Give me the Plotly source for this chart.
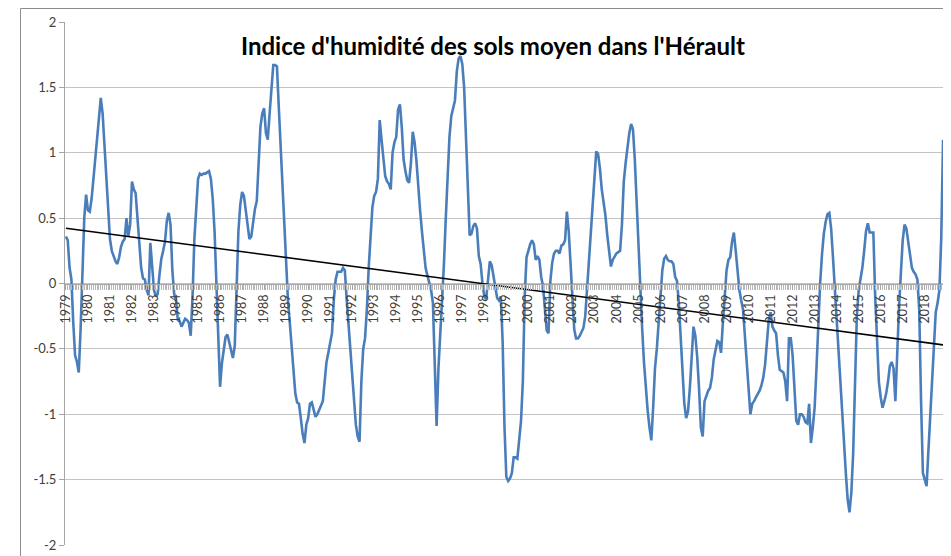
import numpy as np
import plotly.graph_objects as go

# ---------------- data (monthly soil moisture index, Jan 1979 .. Nov 2018) ----------------
v_1979_1983 = [
    0.36, 0.33, 0.12, 0.03, -0.3, -0.55, -0.6, -0.68, -0.35, 0.05, 0.5, 0.68,
    0.56, 0.55, 0.65, 0.8, 0.95, 1.16, 1.27, 1.42, 1.3, 1.05, 0.9, 0.62,
    0.34, 0.25, 0.2, 0.17, 0.15, 0.2, 0.28, 0.32, 0.34, 0.5, 0.36, 0.45,
    0.78, 0.72, 0.69, 0.5, 0.27, 0.12, 0.04, 0.03, -0.05, -0.09, 0.31, 0.12,
    -0.05, -0.1, -0.08, 0.07, 0.19, 0.25, 0.32, 0.48, 0.54, 0.45, 0.1, -0.08,
]
v_1984_1988 = [
    -0.13, -0.28, -0.29, -0.33, -0.3, -0.27, -0.28, -0.3, -0.4, -0.1, 0.34, 0.6,
    0.8, 0.84, 0.83, 0.84, 0.84, 0.85, 0.86, 0.8, 0.65, 0.4, 0.0, -0.5,
    -0.79, -0.61, -0.5, -0.41, -0.39, -0.45, -0.53, -0.57, -0.48, -0.1, 0.4, 0.6,
    0.7, 0.67, 0.55, 0.44, 0.34, 0.36, 0.47, 0.57, 0.63, 0.88, 1.2, 1.3,
    1.34, 1.15, 1.1, 1.3, 1.52, 1.67, 1.67, 1.66, 1.35, 1.05, 0.67, 0.4,
]
v_1989_1993 = [
    0.16, -0.13, -0.3, -0.46, -0.64, -0.84, -0.91, -0.92, -1.03, -1.15, -1.22, -1.08,
    -1.03, -0.92, -0.91, -0.96, -1.02, -1.0, -0.97, -0.94, -0.9, -0.75, -0.6, -0.53,
    -0.46, -0.38, -0.12, 0.03, 0.09, 0.09, 0.09, 0.12, 0.1, -0.12, -0.3, -0.5,
    -0.68, -0.9, -1.08, -1.17, -1.21, -0.75, -0.5, -0.42, -0.2, 0.12, 0.37, 0.58,
    0.67, 0.7, 0.8, 1.25, 1.1, 0.95, 0.82, 0.78, 0.76, 0.72, 1.0, 1.08,
]
v_1994_1998 = [
    1.12, 1.33, 1.37, 1.2, 0.95, 0.86, 0.79, 0.77, 0.92, 1.16, 1.08, 0.94,
    0.72, 0.56, 0.4, 0.23, 0.12, 0.06, 0.0, -0.05, -0.15, -0.55, -1.09, -0.65,
    -0.4, -0.15, 0.15, 0.5, 0.88, 1.12, 1.28, 1.34, 1.4, 1.62, 1.72, 1.74,
    1.68, 1.5, 1.1, 0.7, 0.37, 0.38, 0.44, 0.46, 0.42, 0.21, 0.15, 0.0,
    -0.1, -0.12, 0.02, 0.17, 0.14, 0.05, -0.04, -0.11, -0.13, -0.1, -0.45, -1.1,
]
v_1999_2003 = [
    -1.48, -1.51, -1.49, -1.45, -1.33, -1.33, -1.34, -1.2, -1.05, -0.75, -0.1, 0.2,
    0.26, 0.3, 0.33, 0.3, 0.18, 0.21, 0.18, 0.05, -0.02, -0.18, -0.36, -0.38,
    0.02, 0.16, 0.23, 0.25, 0.25, 0.23, 0.29, 0.3, 0.33, 0.55, 0.4, 0.15,
    -0.12, -0.35, -0.42, -0.42, -0.4, -0.37, -0.34, -0.25, -0.05, 0.18, 0.42, 0.62,
    0.8, 1.01, 0.99, 0.88, 0.72, 0.62, 0.52, 0.37, 0.22, 0.13, 0.18, 0.21,
]
v_2004_2008 = [
    0.23, 0.24, 0.25, 0.45, 0.78, 0.92, 1.05, 1.15, 1.22, 1.18, 0.95, 0.6,
    0.3, -0.09, -0.34, -0.6, -0.8, -0.97, -1.1, -1.2, -0.95, -0.65, -0.5, -0.3,
    -0.05, 0.1, 0.19, 0.21, 0.18, 0.17, 0.17, 0.15, 0.05, 0.02, -0.15, -0.4,
    -0.65, -0.92, -1.03, -0.98, -0.8, -0.6, -0.33, -0.4, -0.56, -0.8, -1.1, -1.17,
    -0.9, -0.86, -0.82, -0.8, -0.72, -0.58, -0.5, -0.44, -0.45, -0.53, -0.3, -0.05,
]
v_2009_2013 = [
    0.1, 0.18, 0.2, 0.32, 0.39, 0.25, 0.07, -0.05, -0.13, -0.2, -0.4, -0.6,
    -0.88, -1.0, -0.92, -0.9, -0.87, -0.85, -0.82, -0.78, -0.72, -0.62, -0.45, -0.28,
    -0.22, -0.33, -0.36, -0.38, -0.55, -0.66, -0.67, -0.68, -0.75, -0.9, -0.42, -0.42,
    -0.55, -0.77, -1.05, -1.08, -1.0, -1.0, -1.02, -1.06, -1.07, -0.92, -1.22, -1.1,
    -0.95, -0.65, -0.3, 0.0, 0.22, 0.38, 0.47, 0.53, 0.54, 0.42, 0.2, -0.05,
]
v_2014_2018 = [
    -0.25, -0.5, -0.78, -1.0, -1.21, -1.45, -1.65, -1.75, -1.6, -1.3, -0.8, -0.25,
    -0.05, 0.03, 0.12, 0.25, 0.4, 0.46, 0.39, 0.39, 0.39, -0.1, -0.5, -0.75,
    -0.87, -0.95, -0.9, -0.84, -0.75, -0.63, -0.6, -0.65, -0.9, -0.45, -0.18, 0.08,
    0.33, 0.45, 0.42, 0.32, 0.2, 0.12, 0.09, 0.07, 0.03, -0.2, -0.9, -1.45,
    -1.5, -1.55, -1.28, -1.0, -0.7, -0.5, -0.22, -0.15, -0.05, 0.35, 1.1,
]

years = list(range(1979, 2019))
year_labels = [str(y) for y in years]
y_tick_values = [-2, -1.5, -1, -0.5, 0, 0.5, 1, 1.5, 2]
y_tick_labels = ["-2", "-1.5", "-1", "-0.5", "0", "0.5", "1", "1.5", "2"]
title_text = "Indice d'humidité des sols moyen dans l'Hérault"

values = (v_1979_1983 + v_1984_1988 + v_1989_1993 + v_1994_1998 +
          v_1999_2003 + v_2004_2008 + v_2009_2013 + v_2014_2018)
n = len(values)
idx = np.arange(n)

# linear trend (least squares), as Excel's linear trendline
slope, intercept = np.polyfit(idx, np.array(values), 1)
trend_x = [0, n - 1]
trend_y = [intercept + slope * x for x in trend_x]

# ---------------- figure ----------------
# the page body has an 8px margin, so the figure is placed at (8, 8)
OFF = 8
W, H = 936, 548
# target plot area in page pixels: x 65..944, y 22..545
PLOT_L, PLOT_R, PLOT_T, PLOT_B = 65, 944, 22, 545
ML, MT = PLOT_L - OFF, PLOT_T - OFF
MR = (OFF + W) - PLOT_R
MB = (OFF + H) - PLOT_B
PW, PH = W - ML - MR, H - MT - MB


def px_x(p):
    """page pixel x -> paper fraction"""
    return (p - OFF - ML) / PW


def px_y(p):
    """page pixel y -> paper fraction"""
    return (H - MB - (p - OFF)) / PH


font_family = "Lato, Carlito, Calibri, 'Open Sans', sans-serif"
axis_grey = "#A6A6A6"

fig = go.Figure()
fig.add_trace(go.Scatter(
    x=idx, y=values, mode="lines",
    line=dict(color="#4A7EBB", width=2.6),
    hoverinfo="skip", showlegend=False,
))
fig.add_trace(go.Scatter(
    x=trend_x, y=trend_y, mode="lines",
    line=dict(color="#000000", width=1.6),
    hoverinfo="skip", showlegend=False,
))

fig.update_layout(
    width=W, height=H,
    margin=dict(l=ML, r=MR, t=MT, b=MB, pad=0, autoexpand=False),
    paper_bgcolor="white", plot_bgcolor="white",
    showlegend=False,
    font=dict(family=font_family, size=12, color="#404040"),
    xaxis=dict(
        range=[-0.5, n - 0.5],
        automargin=False,
        tickmode="array",
        tickvals=[12 * i for i in range(len(years))],
        ticktext=year_labels,
        tickangle=-90,
        ticks="outside", ticklen=5, tickcolor=axis_grey, tickwidth=1,
        minor=dict(dtick=1, tick0=0, ticks="outside", ticklen=5,
                   tickcolor="#B8B8B8", tickwidth=1),
        showline=True, linecolor=axis_grey, linewidth=1,
        anchor="free", position=0.5,
        showgrid=False, zeroline=False,
        tickfont=dict(family=font_family, size=12.5, color="#404040"),
    ),
    yaxis=dict(
        range=[-2, 2],
        automargin=False,
        tickmode="array",
        tickvals=y_tick_values,
        ticktext=y_tick_labels,
        ticklabeloverflow="allow",
        ticks="outside", ticklen=5, tickcolor=axis_grey,
        showline=True, linecolor=axis_grey, linewidth=1,
        showgrid=True, gridcolor="#C4C4C4", gridwidth=1,
        zeroline=False,
        tickfont=dict(family=font_family, size=13, color="#404040"),
    ),
    annotations=[dict(
        text="<b>" + title_text + "</b>",
        xref="paper", yref="paper",
        x=px_x(493), y=px_y(45),
        xanchor="center", yanchor="middle",
        showarrow=False,
        font=dict(family=font_family, size=24, color="#000000"),
    )],
    shapes=[
        dict(type="rect", xref="paper", yref="paper", layer="below",
             x0=px_x(20.5), x1=px_x(1000), y0=px_y(700), y1=px_y(8.5),
             line=dict(color="#8C8C8C", width=1), fillcolor="rgba(0,0,0,0)"),
    ],
)

fig.write_html("out.html")
